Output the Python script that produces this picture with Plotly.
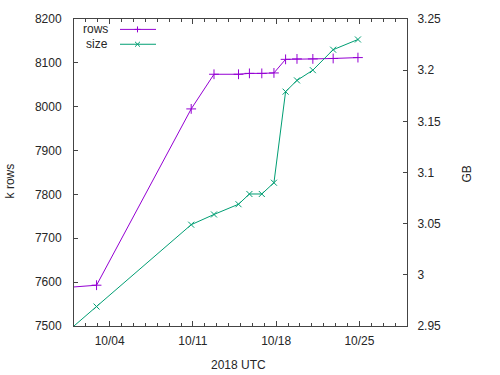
import plotly.graph_objects as go

# data (timestamps UTC)
times = ["2018-09-30 12:00", "2018-10-02 21:30", "2018-10-10 20:30", "2018-10-12 18:30",
         "2018-10-14 20:00", "2018-10-15 18:00", "2018-10-16 19:00", "2018-10-17 19:30",
         "2018-10-18 19:00", "2018-10-19 18:00", "2018-10-21 02:00", "2018-10-22 19:00",
         "2018-10-24 21:00"]
rows_k = [7588, 7593, 7995, 8074, 8074, 8076, 8076, 8077, 8108, 8109, 8109, 8110, 8112]
size_gb = [2.945, 2.969, 3.049, 3.059, 3.069, 3.079, 3.079, 3.090, 3.179, 3.190, 3.200, 3.220, 3.230]

tick_dates = ["2018-10-04", "2018-10-11", "2018-10-18", "2018-10-25"]
tick_text = ["10/04", "10/11", "10/18", "10/25"]
y_ticks = [7500, 7600, 7700, 7800, 7900, 8000, 8100, 8200]
y2_ticks = [2.95, 3.0, 3.05, 3.1, 3.15, 3.2, 3.25]
y2_text = ["2.95", "3", "3.05", "3.1", "3.15", "3.2", "3.25"]

PURPLE = "#9400d3"
GREEN = "#009e73"
AXC = "#444444"
TXT = "#262626"
FONT = "Liberation Sans, Arial, sans-serif"

fig = go.Figure()
fig.add_trace(go.Scatter(x=times, y=rows_k, mode="lines+markers", name="rows",
                         line=dict(color=PURPLE, width=1),
                         marker=dict(symbol="cross-thin", size=7, line=dict(color=PURPLE, width=1)),
                         cliponaxis=True, showlegend=False))
fig.add_trace(go.Scatter(x=times, y=size_gb, mode="lines+markers", name="size", yaxis="y2",
                         line=dict(color=GREEN, width=1),
                         marker=dict(symbol="x-thin", size=6, line=dict(color=GREEN, width=1)),
                         cliponaxis=True, showlegend=False))

W, H = 500, 375
L, R, T, B = 74, 407, 16, 326
pw, ph = R - L, B - T

def px(x):
    return (x - L) / pw

def py(y):
    return (B - y) / ph

shapes = []
annotations = []
# legend
for label, color, yy, sym in [("rows", PURPLE, 26.5, "+"), ("size", GREEN, 41.5, "x")]:
    annotations.append(dict(text=label, x=px(110), y=py(yy), xref="paper", yref="paper",
                            xanchor="right", yanchor="middle", showarrow=False,
                            font=dict(size=12, color=TXT, family=FONT)))
    shapes.append(dict(type="line", xref="paper", yref="paper", x0=px(120), x1=px(156),
                       y0=py(yy), y1=py(yy), line=dict(color=color, width=1)))
    cx = 137.5
    if sym == "+":
        shapes.append(dict(type="line", xref="paper", yref="paper", x0=px(cx - 3), x1=px(cx + 3),
                           y0=py(yy), y1=py(yy), line=dict(color=color, width=1)))
        shapes.append(dict(type="line", xref="paper", yref="paper", x0=px(cx), x1=px(cx),
                           y0=py(yy - 3), y1=py(yy + 3), line=dict(color=color, width=1)))
    else:
        shapes.append(dict(type="line", xref="paper", yref="paper", x0=px(cx - 2.5), x1=px(cx + 2.5),
                           y0=py(yy - 2.5), y1=py(yy + 2.5), line=dict(color=color, width=1)))
        shapes.append(dict(type="line", xref="paper", yref="paper", x0=px(cx - 2.5), x1=px(cx + 2.5),
                           y0=py(yy + 2.5), y1=py(yy - 2.5), line=dict(color=color, width=1)))

# axis titles
annotations.append(dict(text="k rows", x=px(10), y=py(180), xref="paper", yref="paper",
                        textangle=-90, showarrow=False, xanchor="center", yanchor="middle",
                        font=dict(size=12, color=TXT, family=FONT)))
annotations.append(dict(text="GB", x=px(467), y=py(173), xref="paper", yref="paper",
                        textangle=-90, showarrow=False, xanchor="center", yanchor="middle",
                        font=dict(size=12, color=TXT, family=FONT)))
annotations.append(dict(text="2018 UTC", x=px(238), y=py(365), xref="paper", yref="paper",
                        showarrow=False, xanchor="center", yanchor="middle",
                        font=dict(size=12, color=TXT, family=FONT)))

fig.update_layout(
    width=W, height=H,
    margin=dict(l=L, r=W - R, t=T, b=H - B, pad=0),
    paper_bgcolor="white", plot_bgcolor="white",
    font=dict(family=FONT, size=12, color=TXT),
    shapes=shapes, annotations=annotations,
    xaxis=dict(type="date", range=["2018-10-01", "2018-10-29"],
               tickmode="array", tickvals=tick_dates, ticktext=tick_text,
               ticks="inside", ticklen=5, tickcolor=AXC, tickwidth=1,
               minor=dict(dtick=86400000, tick0="2018-10-01", ticks="inside", ticklen=3,
                          tickcolor=AXC, tickwidth=1, showgrid=False),
               showline=True, linecolor=AXC, linewidth=1, mirror="ticks",
               showgrid=False, zeroline=False, ticklabelstandoff=4),
    yaxis=dict(range=[7500, 8200], tickmode="array", tickvals=y_ticks,
               ticks="inside", ticklen=4, tickcolor=AXC, tickwidth=1,
               showline=True, linecolor=AXC, linewidth=1, mirror=False,
               showgrid=False, zeroline=False, ticklabelstandoff=9),
    yaxis2=dict(range=[2.95, 3.25], overlaying="y", side="right", anchor="x",
                tickmode="array", tickvals=y2_ticks, ticktext=y2_text,
                ticks="inside", ticklen=4, tickcolor=AXC, tickwidth=1,
                showline=True, linecolor=AXC, linewidth=1,
                showgrid=False, zeroline=False, ticklabelstandoff=7),
)

fig.write_html("out.html", config={"displayModeBar": False},
               post_script="document.body.style.margin='0';")
